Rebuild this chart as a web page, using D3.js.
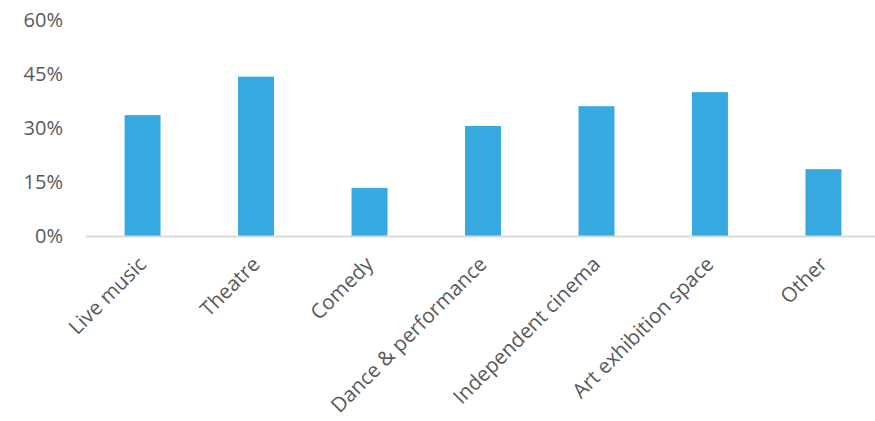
<!DOCTYPE html>
<html>
<head>
<meta charset="utf-8">
<script src="https://cdn.jsdelivr.net/npm/d3@7"></script>
<style>
  html, body { margin: 0; padding: 0; background: #fff; }
  svg { display: block; }
  text { font-family: "Open Sans", "Segoe UI", sans-serif; fill: #595959; }
</style>
</head>
<body>
<svg id="chart" width="875" height="421"></svg>
<script>
// Share of respondents by venue type
const categories = ["Live music", "Theatre", "Comedy", "Dance & performance",
                    "Independent cinema", "Art exhibition space", "Other"];
const values = [33.7, 44.4, 13.5, 30.7, 36.2, 40.1, 18.7];
const yTicks = [0, 15, 30, 45, 60];

const svg = d3.select("#chart");
const margin = { left: 86, right: -5, top: 20.5, bottom: 184.5 };
const width = 875, height = 421;

const x = d3.scaleBand()
  .domain(categories)
  .range([margin.left, width - margin.right])
  .paddingInner(0.683)
  .paddingOuter(0.34);

const y = d3.scaleLinear()
  .domain([0, 60])
  .range([height - margin.bottom, margin.top]);

// Bars
svg.append("g")
  .selectAll("rect")
  .data(values)
  .join("rect")
  .attr("x", (d, i) => x(categories[i]))
  .attr("y", d => y(d))
  .attr("width", x.bandwidth())
  .attr("height", d => y(0) - y(d))
  .attr("fill", "#36A9E1");

// Baseline
svg.append("line")
  .attr("x1", margin.left)
  .attr("x2", width)
  .attr("y1", y(0))
  .attr("y2", y(0))
  .attr("stroke", "#d9d9d9")
  .attr("stroke-width", 2);

// Y axis labels
const yAxis = d3.axisLeft(y)
  .tickValues(yTicks)
  .tickFormat(d => d + "%")
  .tickSize(0)
  .tickPadding(0);
const gy = svg.append("g")
  .attr("transform", "translate(63,0)")
  .call(yAxis);
gy.select(".domain").remove();
gy.selectAll("text")
  .attr("font-size", 20)
  .attr("font-family", "'Open Sans', sans-serif")
  .attr("fill", "#595959");

// Rotated category labels
const xAxis = d3.axisBottom(x).tickSize(0).tickPadding(0);
const gx = svg.append("g")
  .attr("transform", `translate(0,${y(0)})`)
  .call(xAxis);
gx.select(".domain").remove();
gx.selectAll("text")
  .attr("font-size", 20.5)
  .attr("font-family", "'Open Sans', sans-serif")
  .attr("fill", "#595959")
  .attr("text-anchor", "end")
  .attr("dy", 0)
  .attr("transform", "translate(5,29) rotate(-45)");
</script>
</body>
</html>
